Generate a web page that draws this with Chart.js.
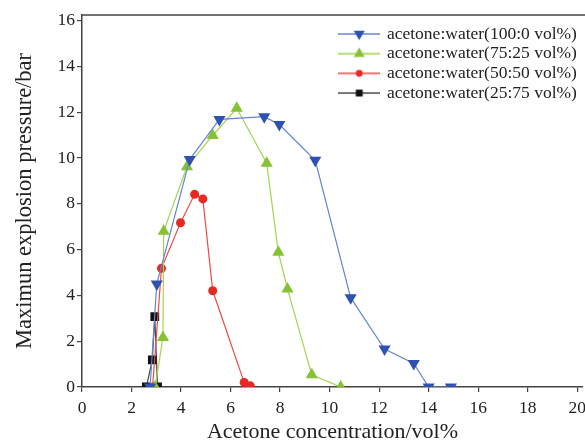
<!DOCTYPE html>
<html>
<head>
<meta charset="utf-8">
<script src="https://cdn.jsdelivr.net/npm/chart.js@4.4.1/dist/chart.umd.min.js"></script>
<style>
html,body{margin:0;padding:0;background:#fff;overflow:hidden;width:585px;height:443px;}
#wrap{width:585px;height:443px;overflow:hidden;position:relative;background:#fff;}
canvas{display:block;}
</style>
</head>
<body>
<div id="wrap"><canvas id="c" width="592" height="443"></canvas></div>
<script>
// ---- data ----
const xTickValues = [0, 2, 4, 6, 8, 10, 12, 14, 16, 18, 20];
const yTickValues = [0, 2, 4, 6, 8, 10, 12, 14, 16];
const seriesNames = [
  'acetone:water(100:0 vol%)',
  'acetone:water(75:25 vol%)',
  'acetone:water(50:50 vol%)',
  'acetone:water(25:75 vol%)'
];
const conc100 = [2.75, 3.02, 4.35, 5.55, 7.36, 7.97, 9.42, 10.85, 12.22, 13.4, 14.0, 14.9];
const pres100 = [0, 4.5, 9.93, 11.68, 11.8, 11.46, 9.9, 3.9, 1.66, 1.03, 0, 0];
const conc75 = [2.95, 3.27, 3.3, 4.24, 5.28, 6.25, 7.46, 7.93, 8.3, 9.28, 10.45];
const pres75 = [0, 2.16, 6.8, 9.62, 10.98, 12.17, 9.77, 5.88, 4.28, 0.53, 0];
const conc50 = [2.85, 3.21, 3.98, 4.55, 4.88, 5.28, 6.55, 6.8];
const pres50 = [0, 5.18, 7.17, 8.41, 8.21, 4.2, 0.2, 0.05];
const conc25 = [2.6, 2.84, 2.94, 3.05];
const pres25 = [0, 1.18, 3.07, 0];

// ---- styling ----
const SERIF = "'Liberation Serif', 'Times New Roman', serif";
const TEXT = '#222';
const AXIS = '#444';
const styles = [
  {line: '#6486d4', fill: '#2f52b0', shape: 'triangle', rot: 180, r: 7},
  {line: '#a2d44e', fill: '#86c232', shape: 'triangle', rot: 0, r: 7},
  {line: '#ee4a44', fill: '#e52a24', shape: 'circle', rot: 0, r: 4.5},
  {line: '#4a4a4a', fill: '#111111', shape: 'rect', rot: 0, r: 6.2}
];
const xs = [conc100, conc75, conc50, conc25];
const ys = [pres100, pres75, pres50, pres25];

function legendIcon(st) {
  const c = document.createElement('canvas');
  c.width = 42; c.height = 16;
  const g = c.getContext('2d');
  g.strokeStyle = st.line; g.lineWidth = 1.3;
  g.beginPath(); g.moveTo(0, 8); g.lineTo(42, 8); g.stroke();
  g.fillStyle = st.fill;
  const cx = 21, cy = 8, r = st.r * 0.9;
  g.beginPath();
  if (st.shape === 'triangle') {
    const s = st.rot ? -1 : 1;
    g.moveTo(cx, cy - s * r);
    g.lineTo(cx + r * 0.866, cy + s * r / 2);
    g.lineTo(cx - r * 0.866, cy + s * r / 2);
    g.closePath();
  } else if (st.shape === 'circle') {
    g.arc(cx, cy, r * 0.85, 0, Math.PI * 2);
  } else {
    const h = r * 0.62;
    g.rect(cx - h, cy - h, 2 * h, 2 * h);
  }
  g.fill();
  return c;
}
const icons = styles.map(legendIcon);

const datasets = seriesNames.map((name, i) => ({
  label: name,
  data: xs[i].map((x, j) => ({x: x, y: ys[i][j]})),
  borderColor: styles[i].line,
  backgroundColor: styles[i].fill,
  borderWidth: 1.2,
  pointStyle: styles[i].shape,
  rotation: styles[i].rot,
  pointRadius: styles[i].r,
  pointBackgroundColor: styles[i].fill,
  pointBorderColor: styles[i].fill,
  pointBorderWidth: 0,
  tension: 0,
  fill: false,
  clip: {left: 10, top: 10, right: 10, bottom: 0}
}));

const legendPlace = {
  id: 'legendPlace',
  beforeDraw(chart) {
    const lg = chart.legend;
    if (!lg) return;
    const w = lg.width, h = lg.height;
    lg.left = 338; lg.right = 338 + w;
    lg.top = 23; lg.bottom = 23 + h;
  }
};
const topFrame = {
  id: 'topFrame',
  afterDraw(chart) {
    const ctx = chart.ctx, a = chart.chartArea;
    ctx.save();
    ctx.strokeStyle = AXIS; ctx.lineWidth = 1.5;
    ctx.beginPath();
    ctx.moveTo(a.left - 0.75, a.top);
    ctx.lineTo(chart.width, a.top);
    ctx.stroke();
    ctx.restore();
  }
};

new Chart(document.getElementById('c'), {
  type: 'line',
  data: {datasets: datasets},
  options: {
    responsive: false,
    animation: false,
    devicePixelRatio: 1,
    layout: {padding: {left: 0, right: 0, top: 15, bottom: 0}},
    scales: {
      x: {
        type: 'linear', min: 0, max: 20.23,
        afterBuildTicks: s => { s.ticks = xTickValues.map(v => ({value: v})); },
        afterFit: s => { s.height = 56; },
        border: {color: AXIS, width: 1.5},
        grid: {drawOnChartArea: false, drawTicks: true, tickLength: 5, color: AXIS, lineWidth: 1.2},
        ticks: {font: {family: SERIF, size: 17.5}, color: TEXT, padding: 6, maxRotation: 0, autoSkip: false},
        title: {display: true, text: 'Acetone concentration/vol%', color: TEXT,
                font: {family: SERIF, size: 22, lineHeight: 1}, padding: {top: 0, bottom: 0}}
      },
      y: {
        type: 'linear', min: 0, max: 16.24,
        afterBuildTicks: s => { s.ticks = yTickValues.map(v => ({value: v})); },
        afterFit: s => { s.width = 82; },
        border: {color: AXIS, width: 1.5},
        grid: {drawOnChartArea: false, drawTicks: true, tickLength: 5, color: AXIS, lineWidth: 1.2},
        ticks: {font: {family: SERIF, size: 17.5}, color: TEXT, padding: 2},
        title: {display: true, text: 'Maximun explosion pressure/bar', color: TEXT,
                font: {family: SERIF, size: 22.5, lineHeight: 1}, padding: {top: 14, bottom: 0}}
      }
    },
    plugins: {
      tooltip: {enabled: false},
      legend: {
        position: 'chartArea', align: 'start',
        labels: {
          usePointStyle: true, pointStyleWidth: 38, padding: 2.2,
          font: {family: SERIF, size: 17.5}, color: TEXT,
          generateLabels: chart => chart.data.datasets.map((ds, i) => ({
            text: ds.label, pointStyle: icons[i], fillStyle: 'rgba(0,0,0,0)',
            strokeStyle: 'rgba(0,0,0,0)', lineWidth: 0, hidden: false, datasetIndex: i, fontColor: TEXT
          }))
        }
      }
    }
  },
  plugins: [legendPlace, topFrame]
});
</script>
</body>
</html>
